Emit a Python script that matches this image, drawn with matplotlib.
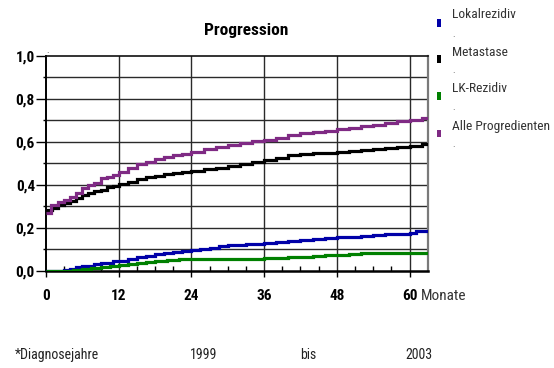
import matplotlib
matplotlib.use("Agg")
import matplotlib.pyplot as plt
from matplotlib.patches import Rectangle

plt.rcParams['font.family'] = ['Roboto Condensed', 'DejaVu Sans']

# Cumulative progression (step functions), months since diagnosis
lokal_months = [0, 3, 4, 5, 6, 7, 8, 9, 10, 11, 12, 13.5, 15, 16.5, 18, 19.5, 21, 22.5, 24,
                25.5, 27, 28.5, 30, 33, 36, 38, 40, 42, 44, 46, 48, 50, 52, 54, 56, 58, 60,
                61, 63]
lokal_values = [0, 0.004, 0.009, 0.015, 0.02, 0.024, 0.03, 0.034, 0.038, 0.043, 0.047, 0.055,
                0.063, 0.07, 0.078, 0.083, 0.087, 0.09, 0.096, 0.102, 0.108, 0.116, 0.122,
                0.125, 0.128, 0.133, 0.139, 0.143, 0.147, 0.151, 0.155, 0.158, 0.162, 0.166,
                0.17, 0.173, 0.177, 0.186, 0.19]

meta_months = [0, 1, 2, 3, 4, 5, 6, 7, 8, 9, 10, 11, 12, 13.5, 15, 16.5, 18, 19.5, 21, 22.5,
               24, 26, 28, 30, 32, 34, 36, 38, 40, 42, 44, 46, 48, 50, 52, 54, 56, 58, 60, 62,
               63]
meta_values = [0.283, 0.29, 0.305, 0.315, 0.325, 0.34, 0.353, 0.36, 0.37, 0.377, 0.388, 0.396,
               0.404, 0.415, 0.428, 0.437, 0.443, 0.45, 0.456, 0.46, 0.465, 0.472, 0.48,
               0.487, 0.497, 0.507, 0.516, 0.527, 0.537, 0.543, 0.547, 0.549, 0.551, 0.557,
               0.562, 0.566, 0.571, 0.577, 0.583, 0.59, 0.593]

lk_months = [0, 4.5, 6, 7.5, 9, 10.5, 12, 13.5, 15, 16.5, 18, 20, 22, 24, 27, 30, 33, 36, 38,
             40, 42, 44, 46, 48, 50, 52, 63]
lk_values = [0, 0.003, 0.008, 0.013, 0.019, 0.023, 0.027, 0.031, 0.035, 0.04, 0.047, 0.05,
             0.053, 0.055, 0.056, 0.056, 0.056, 0.057, 0.06, 0.063, 0.066, 0.069, 0.072,
             0.075, 0.079, 0.084, 0.084]

alle_months = [0, 0.9, 2, 3, 4, 5, 6, 7, 8, 9, 10, 11, 12, 13.5, 15, 16.5, 18, 19.5, 21, 22.5,
               24, 26, 28, 30, 32, 34, 36, 38, 40, 42, 44, 46, 48, 50, 52, 54, 56, 58, 60, 62,
               63]
alle_values = [0.267, 0.306, 0.318, 0.33, 0.342, 0.362, 0.384, 0.40, 0.41, 0.43, 0.438, 0.448,
               0.461, 0.478, 0.495, 0.508, 0.52, 0.53, 0.537, 0.545, 0.554, 0.565, 0.576,
               0.585, 0.595, 0.603, 0.61, 0.62, 0.63, 0.64, 0.647, 0.652, 0.658, 0.665, 0.672,
               0.679, 0.687, 0.695, 0.702, 0.71, 0.714]

series_names = ["Lokalrezidiv", "Metastase", "LK-Rezidiv", "Alle Progredienten"]
series_colors = ["#0000a8", "#000000", "#008000", "#7f2a84"]

x_ticks = [0, 12, 24, 36, 48, 60]
y_ticks = [0.0, 0.2, 0.4, 0.6, 0.8, 1.0]
y_labels = ["0,0", "0,2", "0,4", "0,6", "0,8", "1,0"]

W, H = 554, 368
fig = plt.figure(figsize=(W / 100, H / 100), dpi=100)
ax = fig.add_axes([46 / W, 1 - 270.7 / H, (427.7 - 46) / W, (270.7 - 56) / H])

# grid
for gx in x_ticks[1:]:
    ax.axvline(gx, color="#2a2a2a", lw=1.0, zorder=1)
for i in range(1, 10):
    ax.axhline(i / 10, color="#2a2a2a", lw=1.0, zorder=1)

for m, v, c in zip([lokal_months, meta_months, lk_months, alle_months],
                   [lokal_values, meta_values, lk_values, alle_values], series_colors):
    ax.plot(m, v, drawstyle="steps-post", color=c, lw=2.3, zorder=3,
            solid_capstyle="butt", solid_joinstyle="miter")

ax.set_xlim(0, 63)
ax.set_ylim(0, 1.0)
ax.spines["top"].set_color("#111111")
ax.spines["top"].set_linewidth(1.2)
ax.spines["right"].set_color("#7a7a7a")
ax.spines["right"].set_linewidth(1.6)
ax.spines["left"].set_linewidth(1.4)
ax.spines["bottom"].set_linewidth(1.8)

ax.set_xticks(x_ticks)
ax.set_xticklabels([str(t) for t in x_ticks], fontsize=11, fontweight="bold")
ax.set_xticks(range(0, 63, 3), minor=True)
ax.tick_params(axis="x", which="major", direction="out", length=4, width=1, pad=9)
ax.tick_params(axis="x", which="minor", direction="in", length=3.5, width=1)

ax.set_yticks(y_ticks)
ax.set_yticklabels(y_labels, fontsize=11, fontweight="bold")
ax.set_yticks([0.1, 0.3, 0.5, 0.7, 0.9], minor=True)
ax.tick_params(axis="y", which="major", direction="out", length=7, width=1, pad=1)
ax.tick_params(axis="y", which="minor", direction="out", length=2.5, width=1)

fig.text(421 / W, 1 - 296 / H, "Monate", fontsize=11, color="#333333", va="center", ha="left")
fig.text(246 / W, 1 - 30 / H, "Progression", fontsize=12.5, fontweight="bold",
         ha="center", va="center")
fig.text(48 / W, 1 - 50 / H, ".", fontsize=7, ha="center", va="center", color="#444444")

# legend
text_y = [15, 52, 89, 126]
dot_y = [34, 70, 107, 144]
mark_y = [23, 59, 96, 133]
for name, c, ty, dy, my in zip(series_names, series_colors, text_y, dot_y, mark_y):
    fig.text(452 / W, 1 - ty / H, name, fontsize=9.7, color="#333333", va="center", ha="left")
    fig.text(452 / W, 1 - dy / H, ".", fontsize=7, color="#555555", va="center", ha="left")
    fig.patches.append(Rectangle((437 / W, 1 - (my + 3.5) / H), 3.5 / W, 7 / H,
                                 transform=fig.transFigure, facecolor=c, edgecolor="none"))

# footer
fig.text(15 / W, 1 - 355 / H, "*Diagnosejahre", fontsize=10, color="#222222", va="center")
fig.text(190 / W, 1 - 355 / H, "1999", fontsize=10, color="#222222", va="center")
fig.text(300 / W, 1 - 355 / H, "bis", fontsize=10, color="#222222", va="center")
fig.text(405 / W, 1 - 355 / H, "2003", fontsize=10, color="#222222", va="center")

fig.savefig("out.png", dpi=100)
